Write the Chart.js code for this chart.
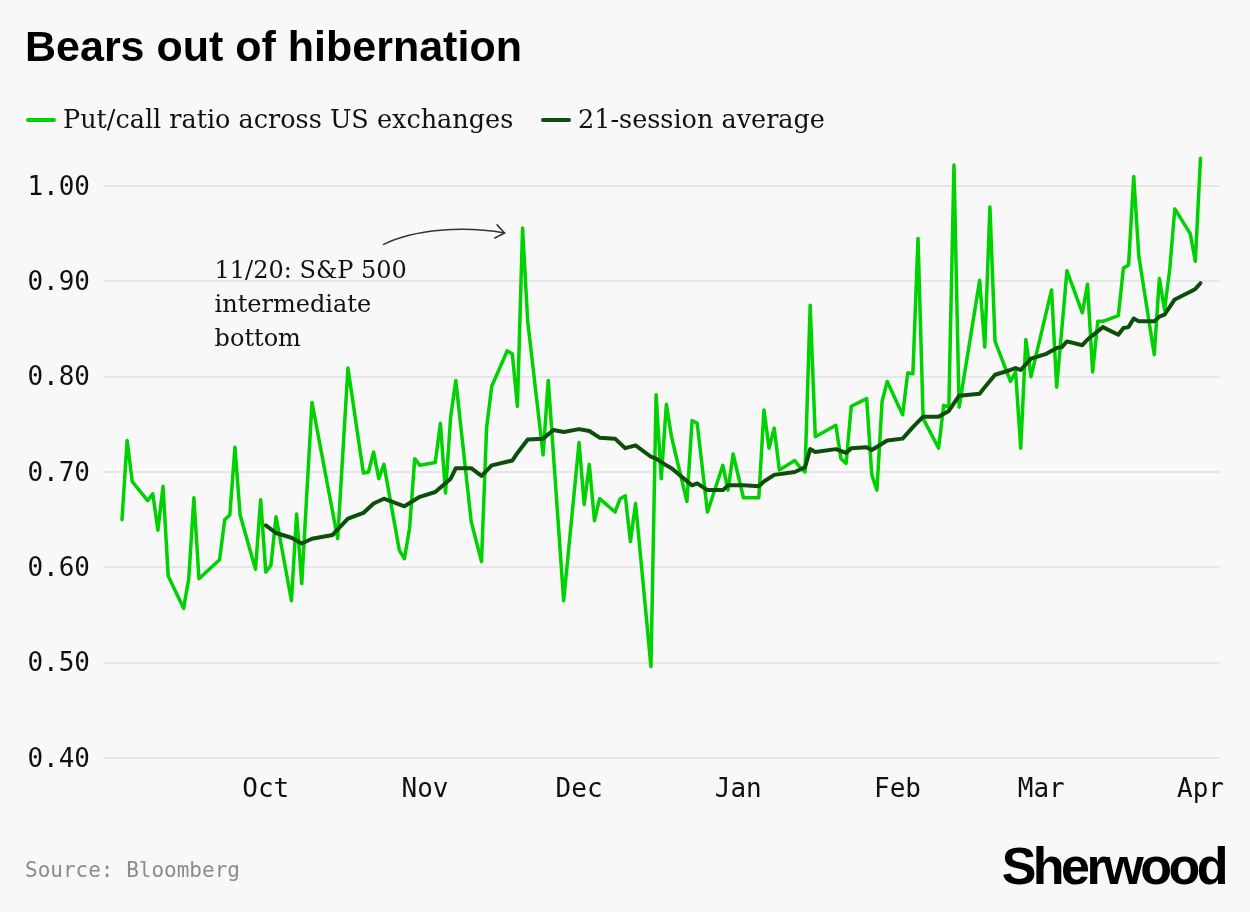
<!DOCTYPE html>
<html>
<head>
<meta charset="utf-8">
<title>Bears out of hibernation</title>
<script src="https://cdn.jsdelivr.net/npm/chart.js@4.4.1/dist/chart.umd.min.js"></script>
<style>
  html, body { margin: 0; padding: 0; background: #f8f8f8; }
  #wrap { position: relative; width: 1250px; height: 912px; overflow: hidden; background: #f8f8f8; }
  #box { position: absolute; left: 0; top: 0; width: 1250px; height: 912px; }
  .title { position: absolute; left: 25px; top: 25px; font: bold 43px "Liberation Sans", Arial, sans-serif; line-height: 43px; color: #000; white-space: nowrap; }
  .item { position: absolute; top: 107px; height: 25px; display: flex; align-items: center; font: 25.5px "DejaVu Serif", serif; line-height: 25px; color: #111; white-space: nowrap; }
  .sw { display: inline-block; width: 30px; height: 4px; border-radius: 2px; margin-right: 7px; }
  .source { position: absolute; left: 25px; top: 860px; font: 21px "DejaVu Sans Mono", monospace; line-height: 21px; color: #8c8c8c; }
  .logo { position: absolute; right: 25px; top: 840px; font: bold 52px "Liberation Sans", Arial, sans-serif; line-height: 52px; letter-spacing: -3.5px; color: #000; }
</style>
</head>
<body>
<div id="wrap">
  <div id="box"><canvas id="chart"></canvas></div>
  <div class="title">Bears out of hibernation</div>
  <div class="item" style="left:26px"><span class="sw" style="background:#00d100"></span>Put/call ratio across US exchanges</div>
  <div class="item" style="left:541px"><span class="sw" style="background:#0b4f0b"></span>21-session average</div>
  <div class="source">Source: Bloomberg</div>
  <div class="logo">Sherwood</div>
</div>
<script>
// days counted from Sep 1 (day 0)
const putCallDays = [2, 3, 4, 7, 8, 9, 10, 11, 14, 15, 16, 17, 21, 22, 23, 24, 25, 28, 29, 30,
  31, 32, 35, 36, 37, 39, 44, 46, 49, 50, 51, 52, 53, 56, 57, 58, 59, 60, 63, 64,
  65, 66, 67, 70, 72, 73, 74, 77, 78, 79, 80, 81, 84, 85, 88, 91, 92, 93, 94, 95,
  98, 99, 100, 101, 102, 105, 106, 107, 108, 109, 112, 113, 114, 116, 119, 120, 121, 123, 126, 127,
  128, 129, 130, 133, 134, 135, 136, 137, 141, 142, 143, 144, 147, 148, 149, 150, 151, 154, 155, 156,
  157, 158, 161, 162, 163, 164, 165, 169, 170, 171, 172, 175, 176, 177, 178, 179, 183, 184, 186, 189,
  190, 191, 192, 193, 196, 197, 198, 199, 200, 203, 204, 205, 206, 207, 210, 211, 212];
const putCallValues = [0.650, 0.733, 0.690, 0.670, 0.677, 0.639, 0.685, 0.591, 0.557, 0.588, 0.673, 0.588, 0.608, 0.650, 0.655, 0.726, 0.655, 0.598, 0.671, 0.595,
  0.602, 0.653, 0.565, 0.656, 0.583, 0.773, 0.630, 0.809, 0.699, 0.700, 0.721, 0.693, 0.708, 0.618, 0.609, 0.641, 0.714, 0.707, 0.710, 0.751,
  0.678, 0.758, 0.796, 0.648, 0.606, 0.747, 0.790, 0.827, 0.824, 0.769, 0.956, 0.858, 0.718, 0.796, 0.565, 0.731, 0.666, 0.708, 0.649, 0.672,
  0.658, 0.672, 0.675, 0.627, 0.667, 0.496, 0.781, 0.693, 0.771, 0.737, 0.669, 0.754, 0.751, 0.658, 0.707, 0.681, 0.719, 0.673, 0.673, 0.765,
  0.725, 0.746, 0.702, 0.712, 0.705, 0.700, 0.875, 0.737, 0.749, 0.714, 0.709, 0.769, 0.777, 0.697, 0.681, 0.774, 0.795, 0.760, 0.804, 0.803,
  0.945, 0.756, 0.725, 0.770, 0.768, 1.022, 0.768, 0.901, 0.831, 0.978, 0.837, 0.795, 0.805, 0.725, 0.839, 0.800, 0.891, 0.789, 0.911, 0.867,
  0.897, 0.805, 0.858, 0.858, 0.864, 0.914, 0.917, 1.010, 0.926, 0.823, 0.903, 0.870, 0.912, 0.976, 0.950, 0.921, 1.029];

const avgDays = [30, 32, 35, 37, 39, 43, 46, 49, 51, 53, 57, 60, 63, 66, 67, 70, 72, 74, 78, 79,
  81, 84, 86, 88, 91, 93, 95, 98, 100, 102, 105, 106, 108, 109, 113, 114, 116, 119, 120, 123,
  126, 127, 129, 133, 135, 136, 137, 141, 143, 144, 147, 148, 151, 154, 156, 158, 161, 163, 165, 169,
  170, 172, 175, 176, 177, 179, 182, 184, 185, 186, 189, 190, 193, 196, 197, 198, 199, 200, 203, 204,
  205, 207, 210, 211, 212];
const avgValues = [0.644, 0.636, 0.631, 0.625, 0.630, 0.634, 0.651, 0.657, 0.667, 0.672, 0.664, 0.674, 0.679, 0.693, 0.704, 0.704, 0.696, 0.707, 0.712, 0.720,
  0.734, 0.735, 0.744, 0.742, 0.745, 0.743, 0.736, 0.735, 0.725, 0.728, 0.716, 0.714, 0.707, 0.704, 0.686, 0.688, 0.681, 0.681, 0.686, 0.686,
  0.685, 0.690, 0.697, 0.700, 0.705, 0.724, 0.721, 0.724, 0.720, 0.725, 0.726, 0.723, 0.733, 0.735, 0.747, 0.758, 0.758, 0.764, 0.780, 0.782,
  0.789, 0.802, 0.807, 0.809, 0.807, 0.819, 0.824, 0.830, 0.831, 0.837, 0.833, 0.839, 0.852, 0.844, 0.851, 0.852, 0.861, 0.858, 0.858, 0.863,
  0.865, 0.881, 0.889, 0.892, 0.898];

const monthTickDays = [30, 61, 91, 122, 153, 181, 212];
const monthTickLabels = ['Oct', 'Nov', 'Dec', 'Jan', 'Feb', 'Mar', 'Apr'];
const yTickValues = [0.4, 0.5, 0.6, 0.7, 0.8, 0.9, 1.0];

const noteDay = 80; // 11/20
const noteLines = ['11/20: S&P 500', 'intermediate', 'bottom'];

const monoFont = '"DejaVu Sans Mono", monospace';

const notePlugin = {
    id: 'note',
    afterDatasetsDraw(chart) {
        const ctx = chart.ctx;
        const xs = chart.scales.x, ys = chart.scales.y;
        const v = putCallValues[putCallDays.indexOf(noteDay)];
        const tx = xs.getPixelForValue(noteDay) - 18;
        const ty = ys.getPixelForValue(v) + 5;
        ctx.save();
        ctx.strokeStyle = '#333';
        ctx.lineWidth = 1.5;
        ctx.lineCap = 'round';
        const c2x = tx - 40, c2y = ty - 7;
        ctx.beginPath();
        ctx.moveTo(tx - 121, ty + 11.5);
        ctx.bezierCurveTo(tx - 90, ty - 4, c2x, c2y, tx, ty);
        ctx.stroke();
        // arrow head
        const a = Math.atan2(ty - c2y, tx - c2x);
        ctx.beginPath();
        ctx.moveTo(tx - 11 * Math.cos(a - 0.65), ty - 11 * Math.sin(a - 0.65));
        ctx.lineTo(tx, ty);
        ctx.lineTo(tx - 11 * Math.cos(a + 0.65), ty - 11 * Math.sin(a + 0.65));
        ctx.stroke();
        ctx.fillStyle = '#111';
        ctx.font = '24px "DejaVu Serif", serif';
        ctx.textBaseline = 'alphabetic';
        noteLines.forEach((t, i) => {
            ctx.fillText(t, tx - 290, ty + 45.5 + i * 34);
        });
        ctx.restore();
    }
};

const chart = new Chart(document.getElementById('chart'), {
    type: 'line',
    data: {
        datasets: [{
            label: '21-session average',
            data: avgDays.map((d, i) => ({ x: d, y: avgValues[i] })),
            borderColor: '#0b4f0b',
            borderWidth: 4,
            pointRadius: 0,
            tension: 0,
            clip: false,
            borderJoinStyle: 'round',
            borderCapStyle: 'round',
            order: 0
        }, {
            label: 'Put/call ratio across US exchanges',
            data: putCallDays.map((d, i) => ({ x: d, y: putCallValues[i] })),
            borderColor: '#00d100',
            borderWidth: 3.5,
            pointRadius: 0,
            tension: 0,
            clip: false,
            borderJoinStyle: 'round',
            borderCapStyle: 'round',
            order: 1
        }]
    },
    options: {
        responsive: true,
        maintainAspectRatio: false,
        animation: false,
        layout: { padding: { top: 186, left: 25, right: 30, bottom: 94 } },
        plugins: {
            legend: { display: false },
            tooltip: { enabled: false }
        },
        scales: {
            x: {
                type: 'linear',
                min: -1.5,
                max: 215.8,
                grid: { display: false },
                border: { display: false },
                afterBuildTicks: s => { s.ticks = monthTickDays.map(v => ({ value: v })); },
                afterFit: s => { s.height = 60; },
                ticks: {
                    autoSkip: false,
                    maxRotation: 0,
                    padding: 9,
                    color: '#111',
                    font: { family: monoFont, size: 26 },
                    callback: (v, i) => monthTickLabels[i]
                }
            },
            y: {
                min: 0.4,
                max: 1.0,
                grid: { color: '#e6e6e6', lineWidth: 2, drawTicks: false },
                border: { display: false },
                afterBuildTicks: s => { s.ticks = yTickValues.map(v => ({ value: v })); },
                afterFit: s => { s.width = 79; },
                ticks: {
                    padding: 14,
                    labelOffset: 2,
                    color: '#111',
                    font: { family: monoFont, size: 26 },
                    callback: v => v.toFixed(2)
                }
            }
        }
    },
    plugins: [notePlugin]
});
</script>
</body>
</html>
